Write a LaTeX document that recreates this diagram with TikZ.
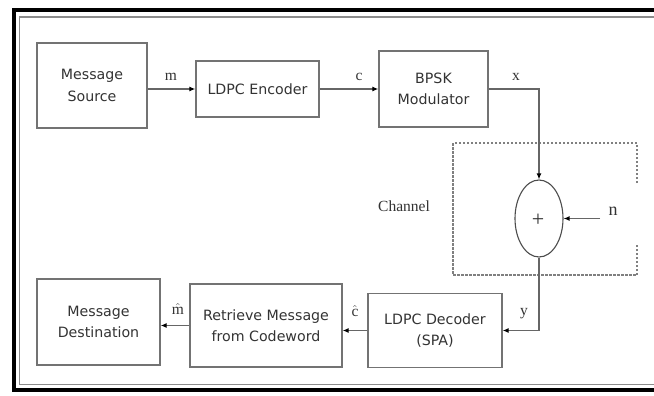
\documentclass[tikz,border=0pt]{standalone}
\usepackage{fontspec}
\setmainfont{Liberation Serif}
\setsansfont{DejaVu Sans}
\usetikzlibrary{arrows.meta,shapes.geometric}
\begin{document}
\begin{tikzpicture}[x=1pt,y=-1pt,
  blk/.style={draw=black!55, line width=1.3pt, rectangle, align=center,
    font=\sffamily\fontsize{14.2}{21.5}\selectfont, text=black!80, inner sep=0pt},
  conn/.style={draw=black!60, line width=1.2pt, -{Latex[length=6pt,width=5pt,black]}},
  lbl/.style={font=\fontsize{15.5}{17}\selectfont, text=black!80, inner sep=0pt},
  chan/.style={draw=black!50, line width=1.1pt, dash pattern=on 2.5pt off 1.5pt}]
\clip (0,0) rectangle (654,396);
\fill[white] (0,0) rectangle (654,396);
% outer frame
\draw[line width=4pt, black] (700,10.5) -- (13.5,10.5) -- (13.5,390) -- (700,390);
\draw[line width=1.2pt, black!45] (700,17) -- (19.5,17) -- (19.5,384.5) -- (700,384.5);
% blocks
\node[blk, minimum width=110, minimum height=85] (src) at (92,85.5) {Message\\Source};
\node[blk, minimum width=123, minimum height=56] (enc) at (257.5,89) {LDPC Encoder};
\node[blk, minimum width=109, minimum height=76] (mod) at (433.5,89) {BPSK\\Modulator};
\node[blk, minimum width=123, minimum height=86] (dst) at (98.5,322) {Message\\Destination};
\node[blk, minimum width=152, minimum height=83] (ret) at (266,325.5) {Retrieve Message\\from Codeword};
\node[blk, minimum width=134, minimum height=74] (dec) at (435,330.5) {LDPC Decoder\\(SPA)};
% channel
\draw[chan] (637,183) -- (637,143) -- (453,143) -- (453,275) -- (637,275) -- (637,243);
\node[lbl, font=\fontsize{15.5}{17}\selectfont] (chl) at (404,206) {Channel};
\node[draw=black!70, line width=1.1pt, ellipse, minimum width=48, minimum height=77, inner sep=0pt] (sum) at (539,218.5) {};
\node[lbl, font=\fontsize{22}{22}\selectfont] (plus) at (538,220) {+};
\coordinate (nsrc) at (600,218.5);
% connectors
\draw[conn] (enc.west -| src.east) -- (enc.west);
\draw[conn] (enc.east) -- (mod.west);
\draw[conn] (mod.east) -| (sum.north);
\draw[conn] (nsrc) -- (sum.east);
\draw[conn] (sum.south) |- (dec.east);
\draw[conn] (dec.west) -- (dec.west -| ret.east);
\draw[conn] (ret.west) -- (ret.west -| dst.east);
% labels
\node[lbl] (lm) at (171,77) {m};
\node[lbl] (lc) at (359,77) {c};
\node[lbl] (lx) at (516,77) {x};
\node[lbl, font=\fontsize{18}{20}\selectfont] (ln) at (613,211) {n};
\node[lbl] (lmh) at (178,309) {$\hat{\mbox{m}}$};
\node[lbl] (lch) at (355,311) {$\hat{\mbox{c}}$};
\node[lbl] (ly) at (524,314) {y};
\end{tikzpicture}
\end{document}
